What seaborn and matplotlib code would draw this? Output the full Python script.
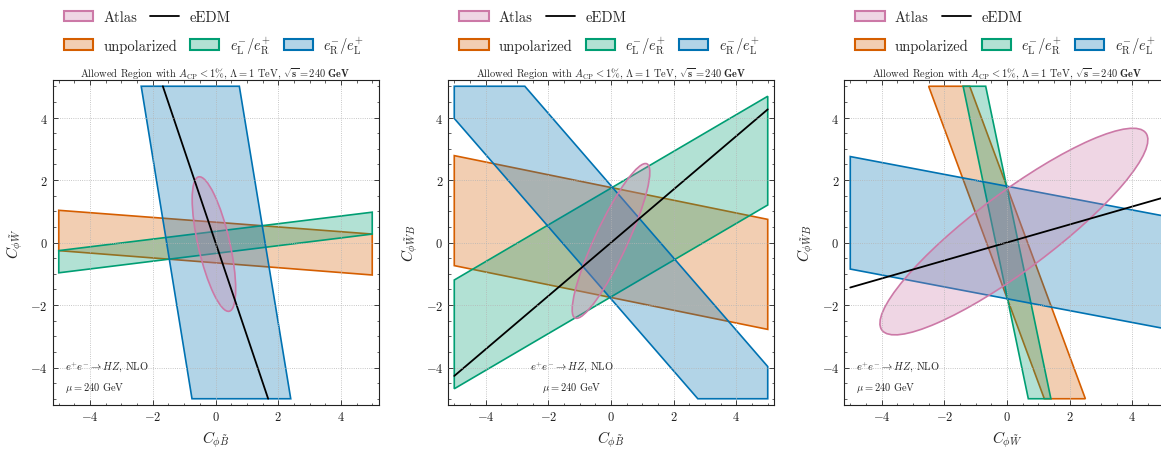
import seaborn as sns
import matplotlib.pyplot as plt
from matplotlib.patches import Ellipse, Patch
from matplotlib.lines import Line2D
from matplotlib.colors import to_rgba
from matplotlib.ticker import MultipleLocator

COL_ATLAS = "#CC79A7"
COL_UNPOL = "#D55E00"
COL_LR = "#009E73"
COL_RL = "#0072B2"

# panel 1: C_phiBt (x) vs C_phiWt (y)
p1_unpol_x = [-5, 5, 5, -5]
p1_unpol_y = [1.03, 0.27, -1.04, -0.26]
p1_lr_x = [-5, 5, 5, -5]
p1_lr_y = [-0.26, 0.97, 0.27, -0.97]
p1_rl_x = [-2.37, 0.76, 2.40, -0.75]
p1_rl_y = [5, 5, -5, -5]
p1_edm_x = [-1.68, 1.68]
p1_edm_y = [5, -5]
p1_atlas = [-0.05, -0.05, 4.41, 1.01, 102.8]  # cx, cy, width, height, angle

# panel 2: C_phiBt (x) vs C_phiWtB (y)
p2_unpol_x = [-5, 5, 5, -5]
p2_unpol_y = [2.78, 0.74, -2.78, -0.74]
p2_lr_x = [-5, 5, 5, -5]
p2_lr_y = [-1.2, 4.68, 1.2, -4.68]
p2_rl_x = [-5, -2.75, 5, 5, 2.77, -5]
p2_rl_y = [5, 5, -3.97, -5, -5, 3.97]
p2_edm_x = [-5, 5]
p2_edm_y = [-4.27, 4.26]
p2_atlas = [0.0, 0.05, 5.44, 1.04, 65.1]

# panel 3: C_phiWt (x) vs C_phiWtB (y)
p3_unpol_x = [-2.5, -1.19, 2.5, 1.19]
p3_unpol_y = [5, 5, -5, -5]
p3_lr_x = [-1.40, -0.68, 1.40, 0.68]
p3_lr_y = [5, 5, -5, -5]
p3_rl_x = [-5, 5, 5, -5]
p3_rl_y = [2.75, 0.85, -2.75, -0.85]
p3_edm_x = [-5, 5]
p3_edm_y = [-1.44, 1.44]
p3_atlas = [0.22, 0.35, 10.52, 2.47, 36.85]

panels = [
    dict(unpol=(p1_unpol_x, p1_unpol_y), lr=(p1_lr_x, p1_lr_y), rl=(p1_rl_x, p1_rl_y),
         edm=(p1_edm_x, p1_edm_y), atlas=p1_atlas,
         xlabel=r"$C_{\phi\tilde{B}}$", ylabel=r"$C_{\phi\tilde{W}}$", note=(0.038, "left")),
    dict(unpol=(p2_unpol_x, p2_unpol_y), lr=(p2_lr_x, p2_lr_y), rl=(p2_rl_x, p2_rl_y),
         edm=(p2_edm_x, p2_edm_y), atlas=p2_atlas,
         xlabel=r"$C_{\phi\tilde{B}}$", ylabel=r"$C_{\phi\tilde{W}B}$", note=(0.38, "center")),
    dict(unpol=(p3_unpol_x, p3_unpol_y), lr=(p3_lr_x, p3_lr_y), rl=(p3_rl_x, p3_rl_y),
         edm=(p3_edm_x, p3_edm_y), atlas=p3_atlas,
         xlabel=r"$C_{\phi\tilde{W}}$", ylabel=r"$C_{\phi\tilde{W}B}$", note=(0.038, "left")),
]

sns.set_theme(style="ticks")
plt.rcParams.update({
    "font.family": "serif",
    "font.serif": ["cmr10"],
    "mathtext.fontset": "cm",
    "axes.formatter.use_mathtext": True,
    "axes.unicode_minus": True,
    "xtick.direction": "in",
    "ytick.direction": "in",
    "xtick.top": True,
    "ytick.right": True,
    "xtick.major.size": 3.5,
    "ytick.major.size": 3.5,
    "xtick.minor.size": 1.8,
    "ytick.minor.size": 1.8,
    "xtick.major.width": 0.6,
    "ytick.major.width": 0.6,
    "xtick.minor.width": 0.5,
    "ytick.minor.width": 0.5,
    "axes.linewidth": 0.8,
    "axes.edgecolor": "#222222",
    "xtick.color": "#222222",
    "ytick.color": "#222222",
})

TITLE = (r"Allowed Region with $A_{\mathrm{CP}} < 1\%$, $\Lambda = 1$ TeV, "
         r"$\sqrt{\mathbf{s}} = \mathbf{240\ GeV}$")


def region(ax, xy, color):
    ax.fill(xy[0], xy[1], facecolor=to_rgba(color, 0.3), edgecolor=color, lw=1.2)


def add_legends(ax):
    top = [Patch(facecolor=to_rgba(COL_ATLAS, 0.3), edgecolor=COL_ATLAS, lw=1.5, label="Atlas"),
           Line2D([], [], color="black", lw=1.3, label="eEDM")]
    bottom = [Patch(facecolor=to_rgba(COL_UNPOL, 0.3), edgecolor=COL_UNPOL, lw=1.5, label="unpolarized"),
              Patch(facecolor=to_rgba(COL_LR, 0.3), edgecolor=COL_LR, lw=1.5,
                    label=r"$e_{\mathrm{L}}^{-}/e_{\mathrm{R}}^{+}$"),
              Patch(facecolor=to_rgba(COL_RL, 0.3), edgecolor=COL_RL, lw=1.5,
                    label=r"$e_{\mathrm{R}}^{-}/e_{\mathrm{L}}^{+}$")]
    opts = dict(loc="center left", frameon=False, borderpad=0, borderaxespad=0,
                columnspacing=0.9, handlelength=2.0, handletextpad=0.7, fontsize=10.5)
    leg1 = ax.legend(handles=top, ncol=2, bbox_to_anchor=(0.035, 1.194), **opts)
    ax.add_artist(leg1)
    ax.legend(handles=bottom, ncol=3, bbox_to_anchor=(0.035, 1.108), **opts)


fig = plt.figure(figsize=(11.61, 4.52), dpi=100)
lefts = [52.5, 448, 844]
for left, p in zip(lefts, panels):
    ax = fig.add_axes([left / 1161, 46 / 452, 326 / 1161, 325 / 452])
    region(ax, p["unpol"], COL_UNPOL)
    region(ax, p["lr"], COL_LR)
    region(ax, p["rl"], COL_RL)
    cx, cy, w, h, ang = p["atlas"]
    ax.add_patch(Ellipse((cx, cy), w, h, angle=ang, facecolor=to_rgba(COL_ATLAS, 0.3),
                         edgecolor=COL_ATLAS, lw=1.2))
    sns.lineplot(x=p["edm"][0], y=p["edm"][1], ax=ax, color="black", lw=1.3, legend=False)

    ax.set_xlim(-5.2, 5.2)
    ax.set_ylim(-5.2, 5.2)
    ax.xaxis.set_major_locator(MultipleLocator(2))
    ax.yaxis.set_major_locator(MultipleLocator(2))
    ax.xaxis.set_minor_locator(MultipleLocator(0.5))
    ax.yaxis.set_minor_locator(MultipleLocator(0.5))
    ax.tick_params(labelsize=9)
    ax.grid(True, which="major", ls=":", lw=0.6, color="#b5b5b5")
    ax.set_axisbelow(False)
    ax.set_xlabel(p["xlabel"], fontsize=11)
    ax.set_ylabel(p["ylabel"], fontsize=11)
    ax.set_title(TITLE, fontsize=7.5, pad=3)

    nx, ha = p["note"]
    ax.text(nx, 0.117, r"$e^{+}e^{-}\to HZ$, NLO", transform=ax.transAxes,
            ha=ha, va="center", fontsize=7.5)
    ax.text(nx, 0.055, r"$\mu = 240$ GeV", transform=ax.transAxes,
            ha=ha, va="center", fontsize=7.5)
    add_legends(ax)

fig.savefig("out.png", dpi=100)
